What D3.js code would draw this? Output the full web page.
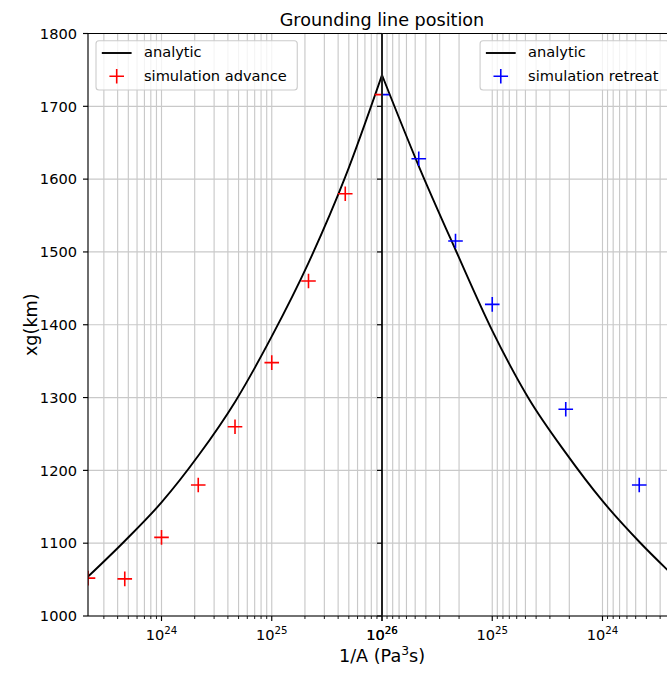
<!DOCTYPE html>
<html>
<head>
<meta charset="utf-8">
<script src="https://cdn.jsdelivr.net/npm/d3@7"></script>
<style>
  html, body { margin: 0; padding: 0; background: #fff; overflow: hidden; }
  svg { display: block; font-family: "DejaVu Sans", sans-serif; }
</style>
</head>
<body>
<svg id="chart" width="667" height="673"></svg>
<script>
// ---- data: grounding line position xg (km) against 1/A (Pa^3 s) ----
// advance branch (1/A increasing)
const advanceInvA = [2.154e23, 4.642e23, 1e24, 2.154e24, 4.642e24, 1e25, 2.154e25, 4.642e25, 1e26];
const advanceXg   = [1052, 1051, 1108, 1180, 1260, 1348, 1460, 1580, 1716];
// retreat branch (1/A decreasing)
const retreatInvA = [1e26, 4.642e25, 2.154e25, 1e25, 2.154e24, 4.642e23];
const retreatXg   = [1716, 1628, 1515, 1428, 1284, 1180];
// analytic solution on each branch
const analyticAdvInvA = [2.154e23, 4.642e23, 1e24, 2.154e24, 4.642e24, 1e25, 2.154e25, 4.642e25, 1e26];
const analyticAdvXg   = [1054, 1103, 1156, 1220, 1294, 1384, 1485, 1603, 1743];
const analyticRetInvA = [1e26, 4.642e25, 2.154e25, 1e25, 4.642e24, 2.154e24, 1e24, 4.642e23, 2.154e23];
const analyticRetXg   = [1743, 1618, 1503, 1392, 1298, 1224, 1158, 1102, 1052];

const yTicks = [1000, 1100, 1200, 1300, 1400, 1500, 1600, 1700, 1800];
const invALimits = [2.154e23, 1e26];

const titleText = "Grounding line position";
const yLabelText = "xg(km)";
const legendLeft  = [{type: "line", label: "analytic"}, {type: "cross", color: "#ff0000", label: "simulation advance"}];
const legendRight = [{type: "line", label: "analytic"}, {type: "cross", color: "#0000ff", label: "simulation retreat"}];

// ---- layout ----
const plotTop = 33.5, plotBottom = 616;
const leftX0 = 88, midX = 382, rightX1 = 676;
const FS = 14.6;
const LABEL_FS = 17.6;

const svg = d3.select("#chart");
svg.append("rect").attr("width", 667).attr("height", 673).attr("fill", "#fff");

const y  = d3.scaleLinear().domain([yTicks[0], yTicks[yTicks.length - 1]]).range([plotBottom, plotTop]);
const xL = d3.scaleLog().domain([invALimits[0], invALimits[1]]).range([leftX0, midX]);
const xR = d3.scaleLog().domain([invALimits[1], invALimits[0]]).range([midX, rightX1]);

const defs = svg.append("defs");
defs.append("clipPath").attr("id", "clipL").append("rect")
  .attr("x", leftX0).attr("y", plotTop).attr("width", midX - leftX0).attr("height", plotBottom - plotTop);
defs.append("clipPath").attr("id", "clipR").append("rect")
  .attr("x", midX).attr("y", plotTop).attr("width", rightX1 - midX).attr("height", plotBottom - plotTop);

const isMajor = v => Math.abs(Math.log10(v) - Math.round(Math.log10(v))) < 1e-9;

// grid
const grid = svg.append("g").attr("stroke", "#c9c9c9").attr("stroke-width", 1.15);
[xL, xR].forEach(sc => {
  sc.ticks().forEach(v => {
    const px = sc(v);
    grid.append("line").attr("x1", px).attr("x2", px).attr("y1", plotTop).attr("y2", plotBottom);
  });
});
yTicks.forEach(v => {
  grid.append("line").attr("x1", leftX0).attr("x2", rightX1).attr("y1", y(v)).attr("y2", y(v));
});

const crossPath = s => `M${-s},0H${s}M0,${-s}V${s}`;

function drawPanel(clipId, sc, curveA, curveXg, ptA, ptXg, color) {
  const g = svg.append("g").attr("clip-path", `url(#${clipId})`);
  const line = d3.line()
    .x(d => sc(d[0])).y(d => y(d[1]))
    .curve(d3.curveMonotoneX);
  g.append("path")
    .datum(d3.zip(curveA, curveXg))
    .attr("d", line)
    .attr("fill", "none").attr("stroke", "#000").attr("stroke-width", 1.9);
  g.selectAll("path.pt").data(d3.zip(ptA, ptXg)).join("path")
    .attr("class", "pt")
    .attr("transform", d => `translate(${sc(d[0])},${y(d[1])})`)
    .attr("d", crossPath(7.3))
    .attr("stroke", color).attr("stroke-width", 1.6).attr("fill", "none");
}
drawPanel("clipL", xL, analyticAdvInvA, analyticAdvXg, advanceInvA, advanceXg, "#ff0000");
drawPanel("clipR", xR, analyticRetInvA, analyticRetXg, retreatInvA, retreatXg, "#0000ff");

// spines
const sp = svg.append("g").attr("stroke", "#000").attr("stroke-width", 1.15).attr("fill", "none");
sp.append("line").attr("x1", leftX0).attr("x2", rightX1).attr("y1", plotTop).attr("y2", plotTop);
sp.append("line").attr("x1", leftX0).attr("x2", rightX1).attr("y1", plotBottom).attr("y2", plotBottom);
sp.append("line").attr("x1", leftX0).attr("x2", leftX0).attr("y1", plotTop).attr("y2", plotBottom);
sp.append("line").attr("x1", rightX1).attr("x2", rightX1).attr("y1", plotTop).attr("y2", plotBottom);
sp.append("line").attr("x1", midX).attr("x2", midX).attr("y1", plotTop).attr("y2", plotBottom)
  .attr("stroke-width", 2).attr("stroke", "#222");

// y ticks (left axis with labels, middle axis without)
const tk = svg.append("g").attr("stroke", "#000").attr("stroke-width", 1.15);
yTicks.forEach(v => {
  tk.append("line").attr("x1", leftX0 - 5).attr("x2", leftX0).attr("y1", y(v)).attr("y2", y(v));
  tk.append("line").attr("x1", midX - 5).attr("x2", midX).attr("y1", y(v)).attr("y2", y(v));
});
svg.append("g").selectAll("text").data(yTicks).join("text")
  .attr("x", leftX0 - 11).attr("y", d => y(d) + 5.3)
  .attr("text-anchor", "end").attr("font-size", FS).attr("fill", "#000")
  .text(d => d);

// x ticks
[xL, xR].forEach(sc => {
  sc.ticks().forEach(v => {
    const px = sc(v);
    const major = isMajor(v);
    tk.append("line").attr("x1", px).attr("x2", px)
      .attr("y1", plotBottom).attr("y2", plotBottom + (major ? 5 : 3))
      .attr("stroke-width", major ? 1.15 : 0.9);
  });
  const majors = sc.ticks().filter(isMajor);
  majors.forEach(v => {
    const t = svg.append("text").attr("x", sc(v)).attr("y", 640)
      .attr("text-anchor", "middle").attr("font-size", FS).attr("fill", "#000");
    t.append("tspan").text("10");
    t.append("tspan").attr("dy", -6.2).attr("font-size", FS * 0.7).text(Math.round(Math.log10(v)));
  });
});

// title
svg.append("text").attr("x", midX).attr("y", 26).attr("text-anchor", "middle")
  .attr("font-size", 17.6).attr("fill", "#000").text(titleText);

// axis labels
const xl = svg.append("text").attr("x", midX).attr("y", 662).attr("text-anchor", "middle")
  .attr("font-size", LABEL_FS).attr("fill", "#000");
xl.append("tspan").text("1/A (Pa");
xl.append("tspan").attr("dy", -7.2).attr("font-size", LABEL_FS * 0.7).text("3");
xl.append("tspan").attr("dy", 7.2).text("s)");

svg.append("text").attr("transform", `translate(37,${(plotTop + plotBottom) / 2}) rotate(-90)`)
  .attr("text-anchor", "middle").attr("font-size", LABEL_FS).attr("fill", "#000").text(yLabelText);

// legends
function drawLegend(items, anchorX, alignRight) {
  const g = svg.append("g");
  const box = g.append("rect");
  const texts = [];
  items.forEach((it, i) => {
    const cy = 53 + i * 23.3;
    const t = g.append("text").attr("y", cy + 4.2).attr("font-size", FS).attr("fill", "#000").text(it.label);
    texts.push(t);
  });
  const tw = d3.max(texts, t => t.node().getComputedTextLength());
  const bw = tw + 58.5;
  const bx = alignRight ? anchorX - bw : anchorX;
  box.attr("x", bx).attr("y", 40.7).attr("width", bw).attr("height", 49.3)
    .attr("rx", 3).attr("fill", "#fff").attr("fill-opacity", 0.8)
    .attr("stroke", "#cccccc").attr("stroke-width", 1.1);
  items.forEach((it, i) => {
    const cy = 53 + i * 23.3;
    texts[i].attr("x", bx + 48);
    if (it.type === "line") {
      g.append("line").attr("x1", bx + 5.8).attr("x2", bx + 35.6).attr("y1", cy).attr("y2", cy)
        .attr("stroke", "#000").attr("stroke-width", 1.9);
    } else {
      g.append("path").attr("transform", `translate(${bx + 20.7},${cy})`)
        .attr("d", crossPath(7.3)).attr("stroke", it.color).attr("stroke-width", 1.6).attr("fill", "none");
    }
  });
}
drawLegend(legendLeft, 96, false);
drawLegend(legendRight, 669, true);
</script>
</body>
</html>
